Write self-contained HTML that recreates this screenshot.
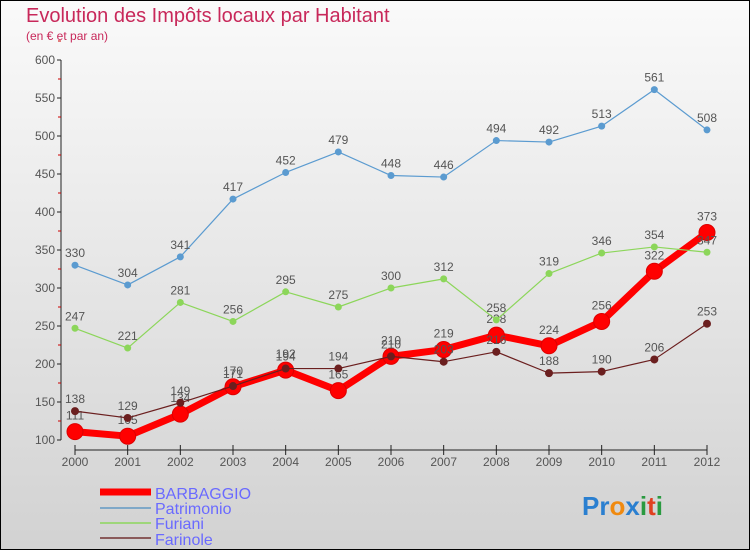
<!DOCTYPE html>
<html><head><meta charset="utf-8"><style>
body{margin:0;width:750px;height:550px;overflow:hidden;font-family:"Liberation Sans",sans-serif}
</style></head><body>
<svg width="750" height="550" xmlns="http://www.w3.org/2000/svg">
<defs><linearGradient id="bg" x1="0" y1="0" x2="0" y2="1"><stop offset="0" stop-color="#fafafa"/><stop offset="1" stop-color="#d2d2d2"/></linearGradient></defs>
<rect x="0.5" y="0.5" width="749" height="549" fill="url(#bg)" stroke="#000"/>
<text x="26" y="22" font-size="20" fill="#c8285a">Evolution des Impôts locaux par Habitant</text>
<text x="26" y="40" font-size="12" fill="#c8285a">(en € et par an)</text>
<g id="axes"></g><g id="series"></g>
<g font-size="16" fill="#6a6aff">
<line x1="100" y1="492" x2="151" y2="492" stroke="#f00" stroke-width="7"/>
<text x="155" y="499">BARBAGGIO</text>
<line x1="100" y1="508" x2="151" y2="508" stroke="#7fa8c8" stroke-width="2"/>
<text x="155" y="514">Patrimonio</text>
<line x1="100" y1="523" x2="151" y2="523" stroke="#9ed67a" stroke-width="2"/>
<text x="155" y="529">Furiani</text>
<line x1="100" y1="538" x2="151" y2="538" stroke="#8a5a5a" stroke-width="2"/>
<text x="155" y="545">Farinole</text>
</g>
<text x="582" y="515" font-size="26" font-weight="bold"><tspan fill="#2a7fd0">Pr</tspan><tspan fill="#f08a10">o</tspan><tspan fill="#2a7fd0">x</tspan><tspan fill="#2a9a40">i</tspan><tspan fill="#e04020">t</tspan><tspan fill="#2a9a40">i</tspan></text>
</svg>
<script>
const years=["2000","2001","2002","2003","2004","2005","2006","2007","2008","2009","2010","2011","2012"];
const yTicks=[100,150,200,250,300,350,400,450,500,550,600];
const patrimonio=[330,304,341,417,452,479,448,446,494,492,513,561,508];
const furiani=[247,221,281,256,295,275,300,312,258,319,346,354,347];
const farinole=[138,129,149,171,194,194,210,203,216,188,190,206,253];
const barbaggio=[111,105,134,170,192,165,210,219,238,224,256,322,373];
const NS="http://www.w3.org/2000/svg";
const X=i=>75+i*(707-75)/12, Y=v=>440-(v-100)*380/500;
function mk(t,a,p){const e=document.createElementNS(NS,t);for(const k in a)e.setAttribute(k,a[k]);p.appendChild(e);return e;}
const ax=document.getElementById('axes');
const yl=mk('line',{x1:61,y1:60,x2:61,y2:440,stroke:'#222'},ax);


yTicks.forEach(v=>{
 mk('line',{x1:57,y1:Y(v),x2:61,y2:Y(v),stroke:'#222'},ax);
 mk('line',{x1:58,y1:Y(v+25),x2:61,y2:Y(v+25),stroke:'#c00'},ax);
 const t=mk('text',{x:55,y:Y(v)+4,'font-size':12,fill:'#555','text-anchor':'end'},ax);t.textContent=v;
 
 
});
const xl=mk('line',{x1:75,y1:450,x2:707,y2:450,stroke:'#222'},ax);


years.forEach((y,i)=>{
 mk('line',{x1:X(i),y1:445,x2:X(i),y2:455,stroke:'#222'},ax);
 const t=mk('text',{x:X(i),y:466,'font-size':12,fill:'#555','text-anchor':'middle'},ax);t.textContent=y;
 
 
});
const sg=document.getElementById('series');
function draw(name,data,color,w,r,labDy,stroke){
 const g=mk('g',{},sg);
 
 
 const pl=mk('polyline',{points:data.map((v,i)=>X(i)+','+Y(v)).join(' '),fill:'none',stroke:color,'stroke-width':w,'stroke-linejoin':'round'},g);
 
 
 data.forEach((v,i)=>{
  const c=mk('circle',{cx:X(i),cy:Y(v),r:r,fill:color,stroke:stroke||'none'},g);
  
  
  const t=mk('text',{x:X(i),y:Y(v)-labDy,'font-size':12,fill:'#555','text-anchor':'middle'},g);t.textContent=v;
  
  
 });
}
draw('barbaggio',barbaggio,'#f00',7,8,12,'#d00');
draw('patrimonio',patrimonio,'#5b9bd0',1.2,3.5,8);
draw('furiani',furiani,'#8cd65a',1.2,3.5,8);
draw('farinole',farinole,'#6b1f1f',1.2,4,8);
</script>
</body></html>
